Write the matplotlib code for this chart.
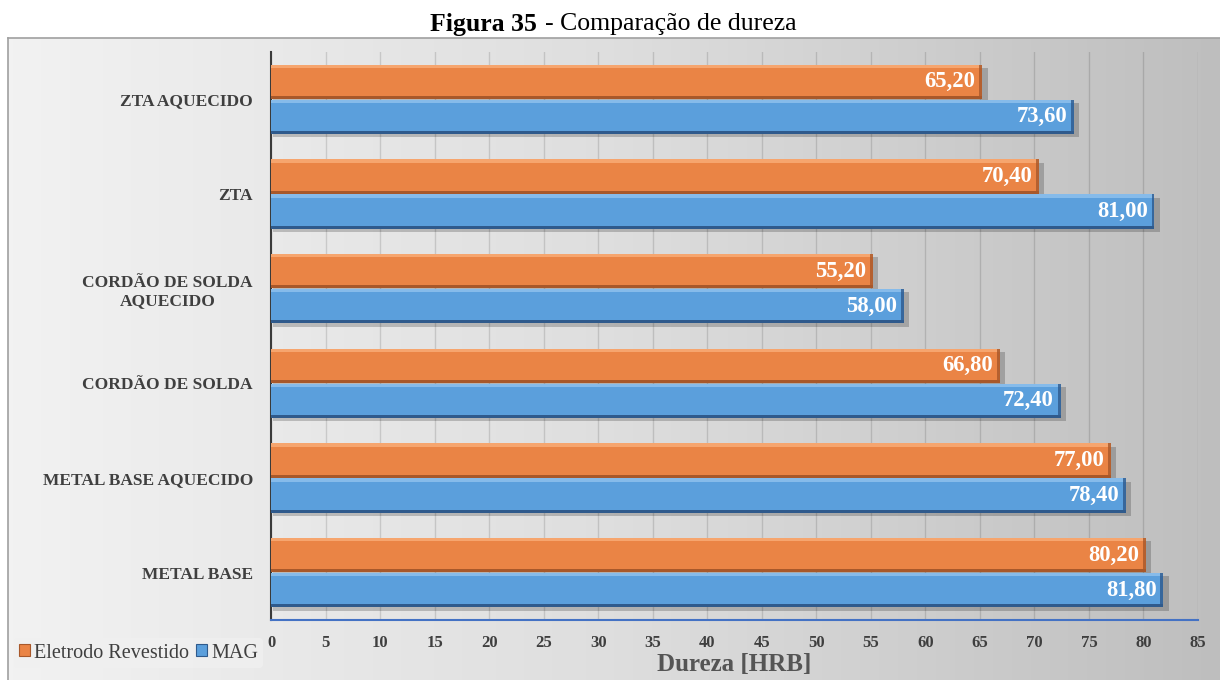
import numpy as np
import matplotlib
matplotlib.use("Agg")
import matplotlib.pyplot as plt
from matplotlib.patches import Rectangle, Patch

# Hardness data (HRB), listed bottom to top
categories = ["METAL BASE", "METAL BASE AQUECIDO", "CORDÃO DE SOLDA",
              "CORDÃO DE SOLDA\nAQUECIDO", "ZTA", "ZTA AQUECIDO"]
eletrodo = [80.20, 77.00, 66.80, 55.20, 70.40, 65.20]
mag = [81.80, 78.40, 72.40, 58.00, 81.00, 73.60]
series_names = ["Eletrodo Revestido", "MAG"]
xticks = list(range(0, 90, 5))

SERIF = ["Liberation Serif", "DejaVu Serif"]
ORANGE = "#ea8445"
ORANGE_LT = "#f6a56e"
ORANGE_DK = "#a8582a"
BLUE = "#5b9fdc"
BLUE_LT = "#86bbea"
BLUE_DK = "#2f5a8c"
TXT = "#3f3f3f"

fig = plt.figure(figsize=(12.2, 6.8), dpi=100)
fig.patch.set_facecolor("white")

# gradient panel behind the chart
bg = fig.add_axes([8 / 1220, 0, 1 - 8 / 1220, 642 / 680], zorder=0)
grad = np.linspace(0, 1, 256)[None, :]
cmap = matplotlib.colors.LinearSegmentedColormap.from_list(
    "bg", ["#f2f2f2", "#dedede", "#bebebe"])
bg.imshow(grad, aspect="auto", cmap=cmap, extent=[0, 1, 0, 1])
bg.set_xlim(0, 1)
bg.set_ylim(0, 1)
bg.set_xticks([])
bg.set_yticks([])
for s in ["left", "top"]:
    bg.spines[s].set_color("#a0a0a0")
    bg.spines[s].set_linewidth(1.2)
for s in ["right", "bottom"]:
    bg.spines[s].set_visible(False)

ax = fig.add_axes([271 / 1220, 1 - 620 / 680, (1198 - 271) / 1220, (620 - 52) / 680], zorder=1)
ax.set_facecolor("none")

y = np.arange(len(categories))
h = 0.36
off = 0.185


def bar3d(ax, yc, value, face, light, dark):
    # drop shadow
    ax.add_patch(Rectangle((0.15, yc - h / 2 - 0.035), value + 0.35, h,
                           facecolor="black", alpha=0.2, edgecolor="none", zorder=2))
    # main face
    ax.add_patch(Rectangle((0, yc - h / 2), value, h,
                           facecolor=face, edgecolor="none", zorder=3))
    # bevel: top highlight, bottom and right darker edges
    ax.add_patch(Rectangle((0, yc + h / 2 - 0.035), value, 0.035,
                           facecolor=light, edgecolor="none", zorder=4))
    ax.add_patch(Rectangle((0, yc - h / 2), value, 0.03,
                           facecolor=dark, edgecolor="none", zorder=4))
    ax.add_patch(Rectangle((value - 0.25, yc - h / 2), 0.25, h,
                           facecolor=dark, edgecolor="none", alpha=0.8, zorder=4))


for yi, v in zip(y, eletrodo):
    bar3d(ax, yi + off, v, ORANGE, ORANGE_LT, ORANGE_DK)
    ax.text(v - 0.6, yi + off, f"{v:.2f}".replace(".", ","), ha="right", va="center",
            color="white", fontsize=16.3, fontweight="bold", family=SERIF, zorder=5)
for yi, v in zip(y, mag):
    bar3d(ax, yi - off, v, BLUE, BLUE_LT, BLUE_DK)
    ax.text(v - 0.6, yi - off, f"{v:.2f}".replace(".", ","), ha="right", va="center",
            color="white", fontsize=16.3, fontweight="bold", family=SERIF, zorder=5)

ax.set_xlim(0, 85)
ax.set_ylim(-0.5, len(categories) - 0.5)
ax.set_xticks(xticks)
ax.set_xticklabels([str(t) for t in xticks], fontsize=12, fontweight="bold",
                   family=SERIF, color=TXT)
ax.set_yticks(y)
ax.set_yticklabels(categories, fontsize=12.5, fontweight="bold", family=SERIF,
                   color=TXT, multialignment="center")
ax.tick_params(axis="y", length=0, pad=13)
ax.tick_params(axis="x", length=0, pad=11)
ax.grid(axis="x", color="black", alpha=0.13, linewidth=1.0, zorder=0)
ax.set_axisbelow(True)
for s in ["top", "right"]:
    ax.spines[s].set_visible(False)
ax.spines["left"].set_color("#3a3a3a")
ax.spines["left"].set_linewidth(1.5)
ax.spines["bottom"].set_color("#4472c4")
ax.spines["bottom"].set_linewidth(1.5)

ax.set_xlabel("Dureza [HRB]", fontsize=18, fontweight="bold", family=SERIF,
              color="#555555", labelpad=1)

# title: bold figure number followed by regular caption
fig.text(537 / 1220, 1 - 24 / 680, "Figura 35", ha="right", va="center",
         fontsize=18.5, fontweight="bold", family=SERIF, color="black")
fig.text(545 / 1220, 1 - 24 / 680, "- Comparação de dureza", ha="left", va="center",
         fontsize=18.5, family=SERIF, color="black")

handles = [Patch(facecolor=ORANGE, edgecolor=ORANGE_DK, linewidth=0.8),
           Patch(facecolor=BLUE, edgecolor=BLUE_DK, linewidth=0.8)]
leg = fig.legend(handles, series_names, loc="center left",
                 bbox_to_anchor=(8 / 1220, 1 - 653 / 680), ncol=2,
                 frameon=True, prop={"family": SERIF, "size": 14.5},
                 handlelength=0.55, handleheight=0.55, handletextpad=0.2,
                 columnspacing=0.35, borderpad=0.25, borderaxespad=0.3,
                 labelcolor=TXT)
leg.get_frame().set_facecolor("#f0f0f0")
leg.get_frame().set_edgecolor("none")
leg.get_frame().set_alpha(0.8)

fig.savefig("out.png", dpi=100)
